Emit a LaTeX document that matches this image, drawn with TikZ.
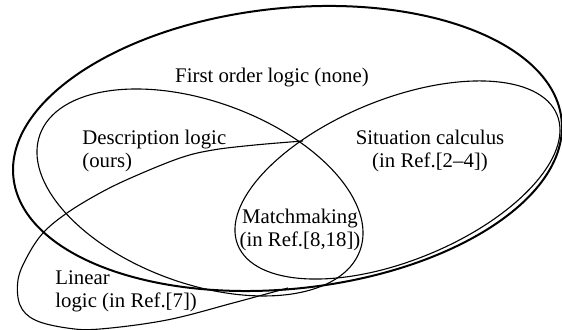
\documentclass[tikz,border=0pt]{standalone}
\usepackage{fontspec}
\setmainfont{Liberation Serif}
\usepackage{tikz}
\tikzstyle{big set} = [line width=1pt]
\tikzstyle{set} = [line width=0.55pt]
\tikzstyle{set label} = [inner sep=0pt, font=\fontsize{10.4}{11.5}\selectfont]

\begin{document}
\begin{tikzpicture}[x=0.5pt, y=-0.5pt]
\useasboundingbox (0,0) rectangle (562,330);

% the sets
\coordinate (first order) at (287.5,148.5);
\coordinate (description) at (200,192.5);
\coordinate (situation) at (397.5,180);
\draw [big set, rotate around={6.05:(first order)}] (first order) ellipse [x radius=275.6, y radius=140.3];
\draw [set, rotate around={-19.9:(description)}] (description) ellipse [x radius=170.2, y radius=91.2];
\draw [set, rotate around={22.2:(situation)}] (situation) ellipse [x radius=172.4, y radius=80.6];
\draw [set] plot [smooth, tension=0.6] coordinates {(303,141) (255,145) (213,150) (180,158) (133,177) (100,193) (67,213) (43,233) (27,257) (18,280) (20,305) (35,320) (67,328) (100,329) (167,320) (233,303) (288,288)};

% labels
\node (first order logic) [set label] at (272,78) {First order logic (none)};
\node (description logic) [set label, anchor=west, align=left] at (82,151.5) {Description logic\\(ours)};
\node (situation calculus) [set label, align=center] at (430,151) {Situation calculus\\(in Ref.[2--4])};
\node (matchmaking) [set label, align=center] at (300,230) {Matchmaking\\(in Ref.[8,18])};
\node (linear logic) [set label, anchor=west, align=left] at (55,291) {Linear\\logic (in Ref.[7])};

\end{tikzpicture}
\end{document}
